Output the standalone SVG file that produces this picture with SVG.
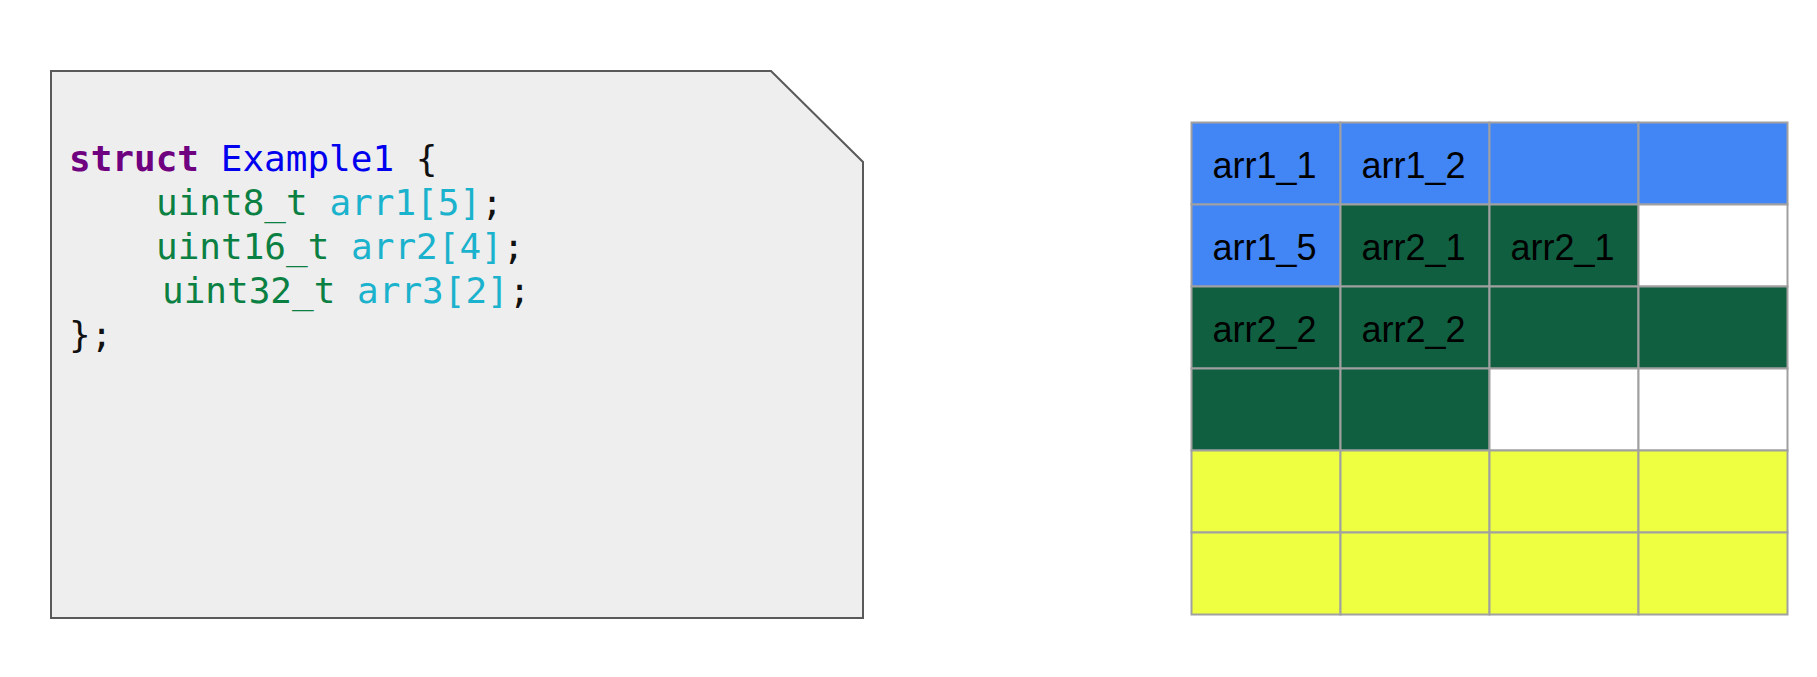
<svg xmlns="http://www.w3.org/2000/svg" width="1817" height="677" viewBox="0 0 1817 677">
<style>
.code{font-family:"DejaVu Sans Mono","Liberation Mono",monospace;font-size:36px;}
.kw{fill:#6f007f;font-weight:bold;}
.ty{fill:#0b8043;}
.nm{fill:#0000ee;}
.id{fill:#1ab2cc;}
.pn{fill:#111111;}
.cell{stroke:#a0a0a0;stroke-width:2;}
.b{fill:#4285f4;}
.g{fill:#105f40;}
.w{fill:#ffffff;}
.y{fill:#eeff41;}
.lbl{font-family:"Liberation Sans",Arial,sans-serif;font-size:36px;fill:#000000;}
</style>
<rect width="1817" height="677" fill="#ffffff"/>
<g id="struct-box">
<path d="M51,71 L771,71 L863,162 L863,618 L51,618 Z" fill="#eeeeee" stroke="#595959" stroke-width="2"/>
<text class="code" x="69" y="171"><tspan class="kw">struct</tspan><tspan class="pn"> </tspan><tspan class="nm">Example1</tspan><tspan class="pn"> {</tspan></text>
<text class="code" x="156" y="214.5"><tspan class="ty">uint8_t</tspan><tspan class="pn"> </tspan><tspan class="id">arr1[5]</tspan><tspan class="pn">;</tspan></text>
<text class="code" x="156" y="258.5"><tspan class="ty">uint16_t</tspan><tspan class="pn"> </tspan><tspan class="id">arr2[4]</tspan><tspan class="pn">;</tspan></text>
<text class="code" x="162" y="302.5"><tspan class="ty">uint32_t</tspan><tspan class="pn"> </tspan><tspan class="id">arr3[2]</tspan><tspan class="pn">;</tspan></text>
<text class="code pn" x="69" y="346.5">};</text>
</g>
<g id="memory-grid">
<g id="row1">
<rect class="cell b" x="1191.5" y="122.5" width="149" height="82"/>
<rect class="cell b" x="1340.5" y="122.5" width="149" height="82"/>
<rect class="cell b" x="1489.5" y="122.5" width="149" height="82"/>
<rect class="cell b" x="1638.5" y="122.5" width="149" height="82"/>
<text class="lbl" x="1212.5" y="178">arr1_1</text>
<text class="lbl" x="1361.5" y="178">arr1_2</text>
</g>
<g id="row2">
<rect class="cell b" x="1191.5" y="204.5" width="149" height="82"/>
<rect class="cell g" x="1340.5" y="204.5" width="149" height="82"/>
<rect class="cell g" x="1489.5" y="204.5" width="149" height="82"/>
<rect class="cell w" x="1638.5" y="204.5" width="149" height="82"/>
<text class="lbl" x="1212.5" y="260">arr1_5</text>
<text class="lbl" x="1361.5" y="260">arr2_1</text>
<text class="lbl" x="1510.5" y="260">arr2_1</text>
</g>
<g id="row3">
<rect class="cell g" x="1191.5" y="286.5" width="149" height="82"/>
<rect class="cell g" x="1340.5" y="286.5" width="149" height="82"/>
<rect class="cell g" x="1489.5" y="286.5" width="149" height="82"/>
<rect class="cell g" x="1638.5" y="286.5" width="149" height="82"/>
<text class="lbl" x="1212.5" y="342">arr2_2</text>
<text class="lbl" x="1361.5" y="342">arr2_2</text>
</g>
<g id="row4">
<rect class="cell g" x="1191.5" y="368.5" width="149" height="82"/>
<rect class="cell g" x="1340.5" y="368.5" width="149" height="82"/>
<rect class="cell w" x="1489.5" y="368.5" width="149" height="82"/>
<rect class="cell w" x="1638.5" y="368.5" width="149" height="82"/>
</g>
<g id="row5">
<rect class="cell y" x="1191.5" y="450.5" width="149" height="82"/>
<rect class="cell y" x="1340.5" y="450.5" width="149" height="82"/>
<rect class="cell y" x="1489.5" y="450.5" width="149" height="82"/>
<rect class="cell y" x="1638.5" y="450.5" width="149" height="82"/>
</g>
<g id="row6">
<rect class="cell y" x="1191.5" y="532.5" width="149" height="82"/>
<rect class="cell y" x="1340.5" y="532.5" width="149" height="82"/>
<rect class="cell y" x="1489.5" y="532.5" width="149" height="82"/>
<rect class="cell y" x="1638.5" y="532.5" width="149" height="82"/>
</g>
</g>
<g id="connectors"></g>
</svg>
